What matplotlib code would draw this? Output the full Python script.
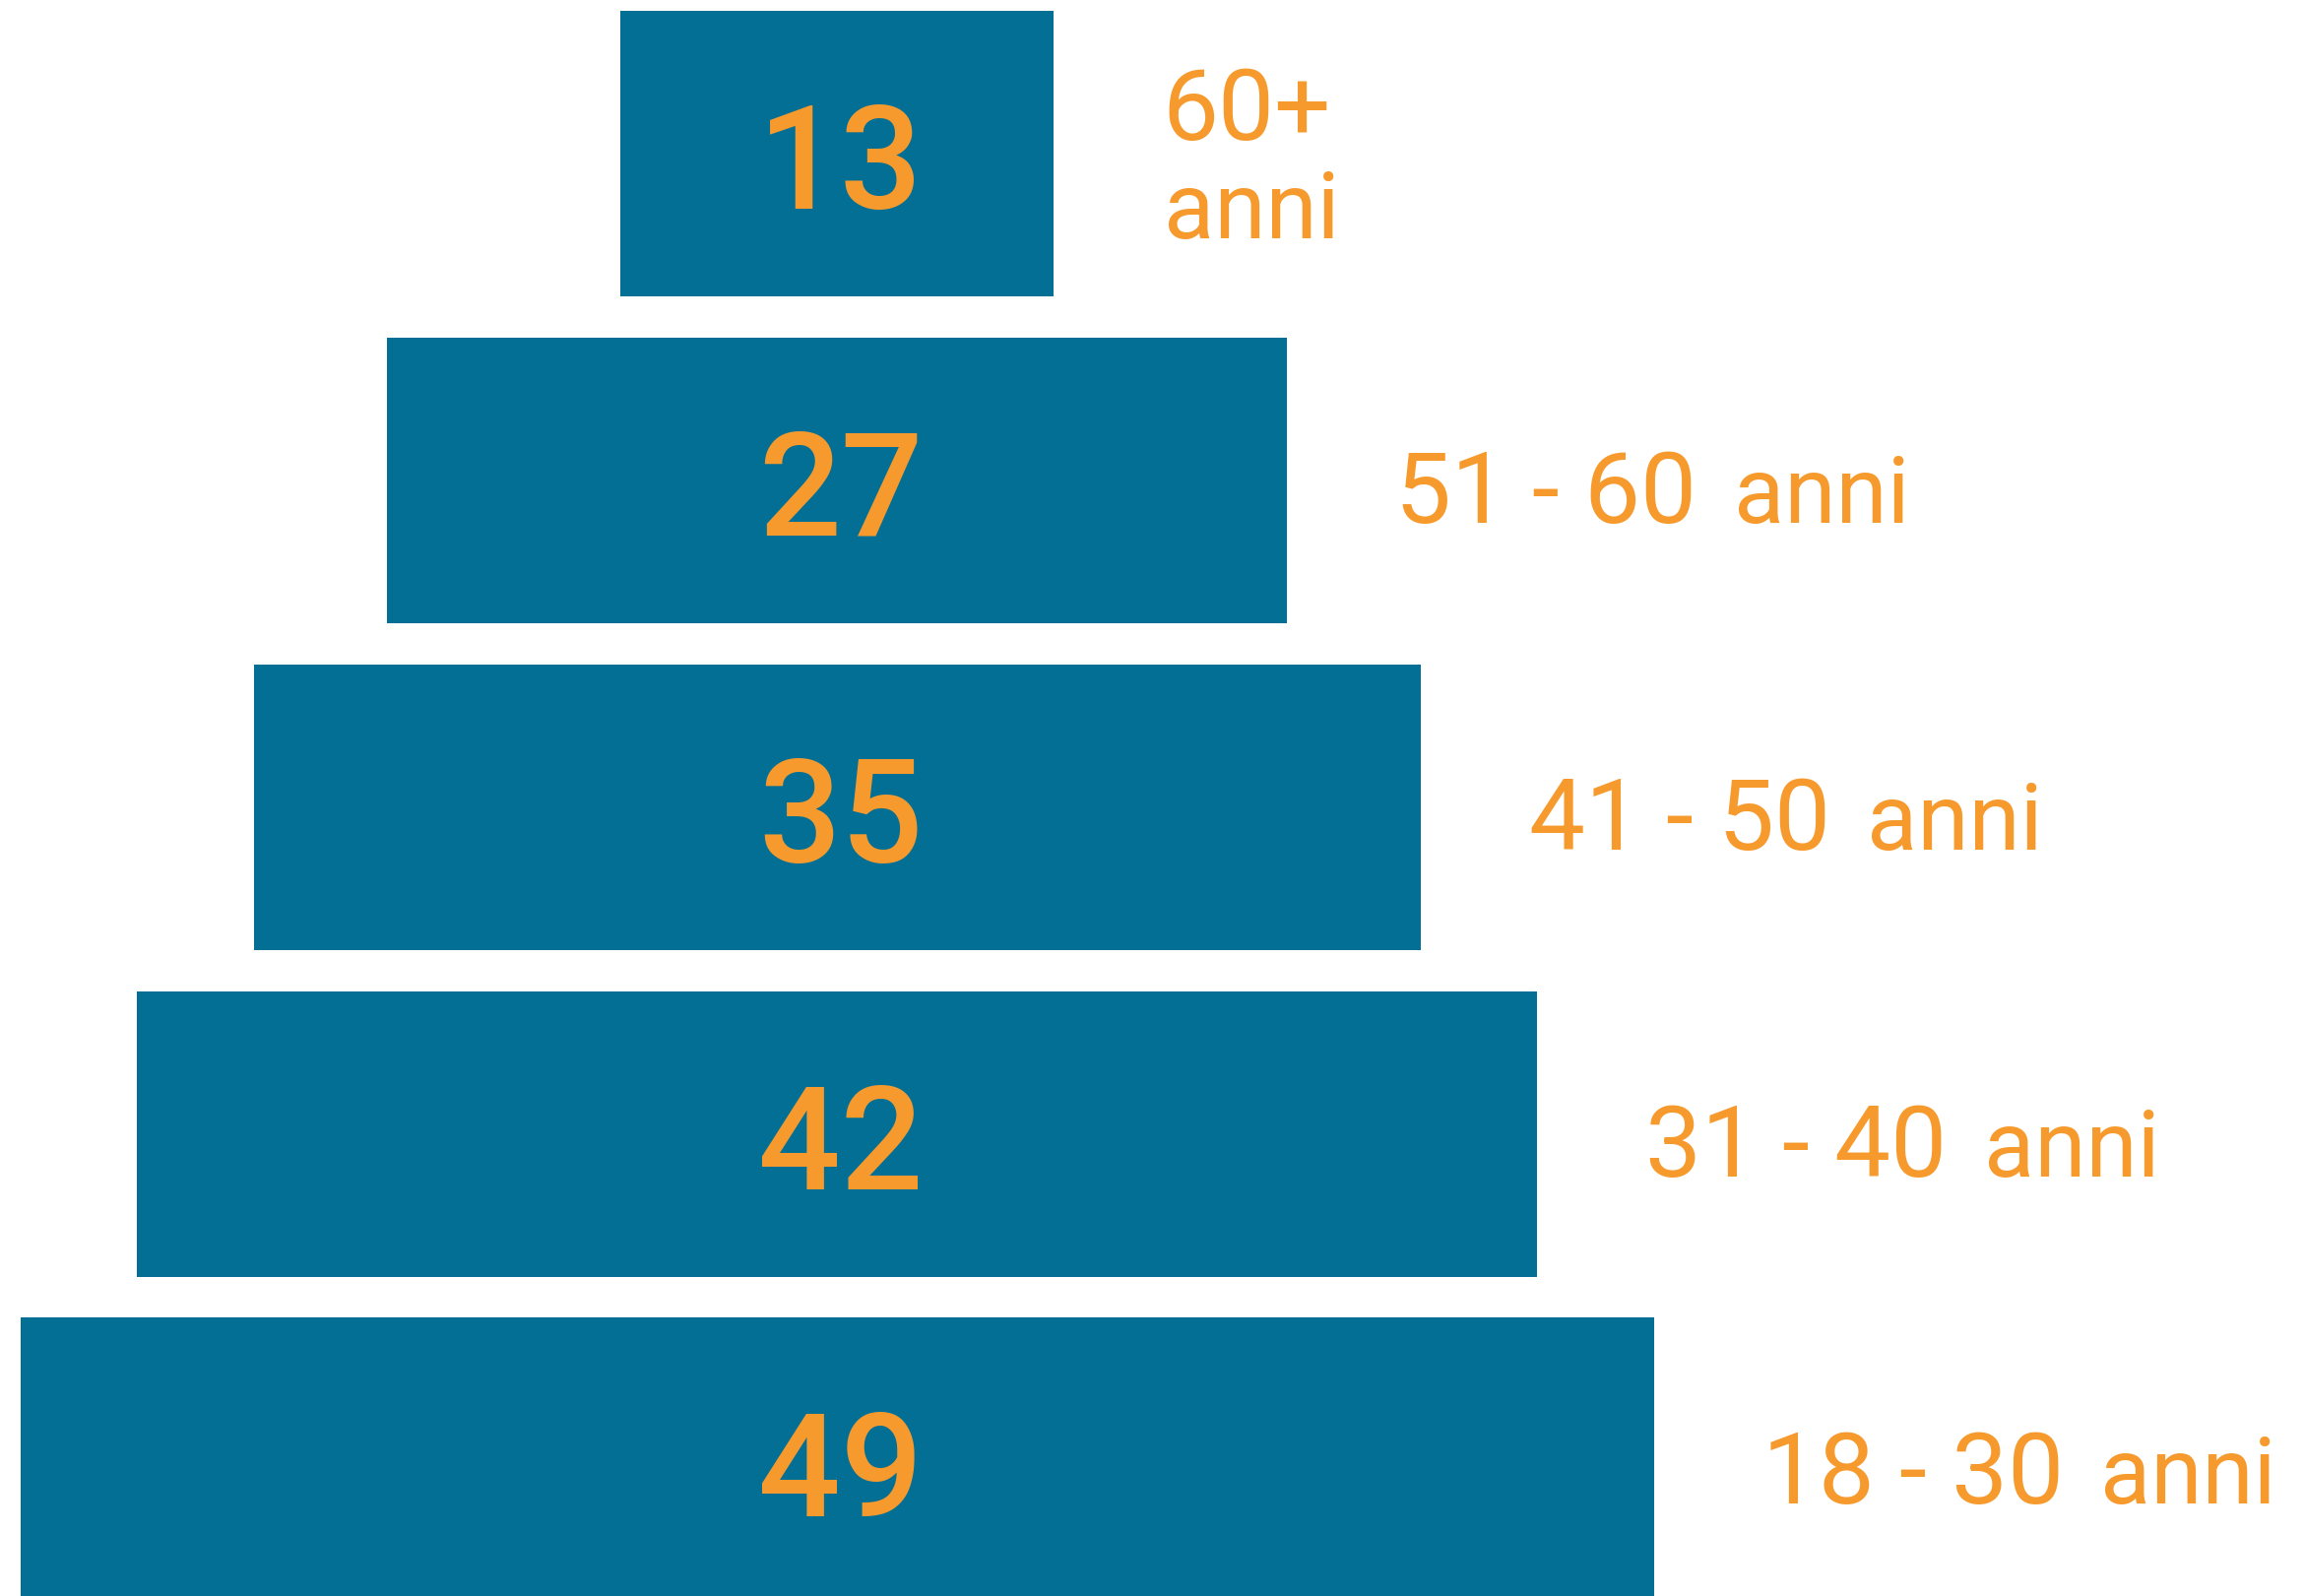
import matplotlib
matplotlib.use("Agg")
import matplotlib.pyplot as plt

# dati: fasce d'età (dal basso verso l'alto) e valori
eta = ["18 - 30", "31 - 40", "41 - 50", "51 - 60", "60+"]
valori = [49, 42, 35, 27, 13]
unita = "anni"

BLU = "#036F94"
ARANCIO = "#F79A2E"
FONT = ["Roboto", "DejaVu Sans"]

fig = plt.figure(figsize=(23.4, 16.21), dpi=100)
ax = fig.add_axes([0, 0, 1, 1])
ax.set_xlim(-25.12, 44.0)
ax.set_ylim(-0.413, 4.47)
ax.axis("off")

pos = list(range(len(eta)))
meta = [v / 2 for v in valori]

# piramide: metà sinistra e metà destra di ogni barra
ax.barh(pos, [-m for m in meta], height=0.876, color=BLU, linewidth=0)
ax.barh(pos, meta, height=0.876, color=BLU, linewidth=0)

# numeri dentro le barre
for y, v in zip(pos, valori):
    ax.text(0.1, y - 0.17, str(v), ha="center", va="baseline", fontsize=106,
            fontweight="medium", color=ARANCIO, family=FONT)

# etichette a destra
etichette = []
for y, lab, m in zip(pos, eta, meta):
    x0 = m + 3.25
    if lab == "60+":
        ax.text(x0, y + 0.043, lab, ha="left", va="baseline", fontsize=73,
                fontweight="normal", color=ARANCIO, family=FONT)
        ax.text(x0 + 0.05, y - 0.259, unita, ha="left", va="baseline", fontsize=68,
                fontweight="normal", color=ARANCIO, family=FONT)
    else:
        t = ax.text(x0, y - 0.13, lab, ha="left", va="baseline", fontsize=73,
                    fontweight="normal", color=ARANCIO, family=FONT)
        etichette.append((t, y))

# "anni" subito dopo la fascia d'età
fig.canvas.draw()
r = fig.canvas.get_renderer()
inv = ax.transData.inverted()
for t, y in etichette:
    bb = t.get_window_extent(r)
    x1 = inv.transform((bb.x1, bb.y0))[0]
    ax.text(x1 + 1.1, y - 0.13, unita, ha="left", va="baseline", fontsize=68,
            fontweight="normal", color=ARANCIO, family=FONT)

fig.savefig("out.png", dpi=100)
